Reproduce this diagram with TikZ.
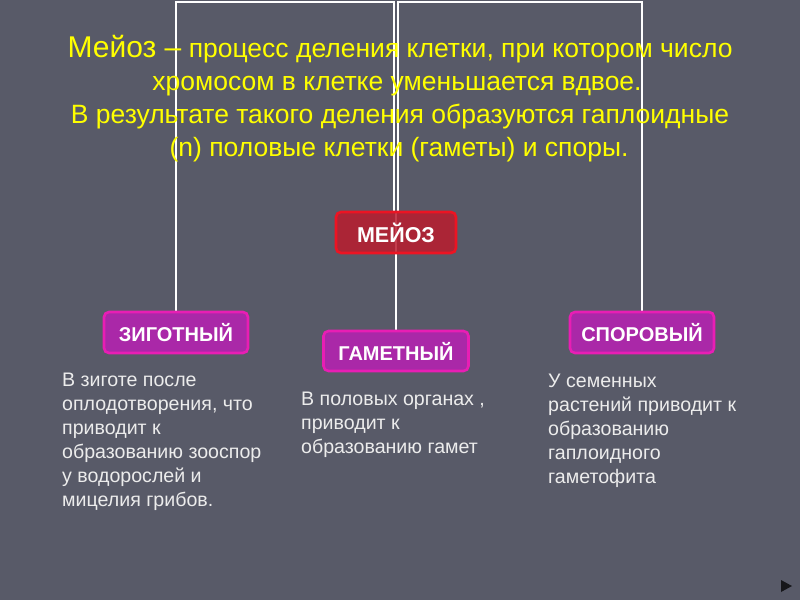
\documentclass[tikz,border=0pt]{standalone}
\usepackage{fontspec}
\setmainfont{Liberation Sans}
\definecolor{bg}{RGB}{88,90,104}
\definecolor{ttl}{RGB}{255,255,0}
\definecolor{txt}{RGB}{236,236,236}
\definecolor{mfill}{RGB}{186,28,46}
\definecolor{mdraw}{RGB}{236,20,35}
\definecolor{pfill}{RGB}{170,40,168}
\definecolor{pdraw}{RGB}{232,30,180}
\begin{document}
\begin{tikzpicture}[x=1pt,y=-1pt,
  wire/.style={draw=white,line width=2.6pt},
  kbox/.style={draw=pdraw,fill=pfill,line width=2.6pt,rounded corners=5pt,
    text=white,font=\bfseries\fontsize{20}{22}\selectfont,inner sep=0pt,
    minimum width=144pt,minimum height=41pt},
  mbox/.style={kbox,draw=mdraw,fill=mfill,fill opacity=0.85,text opacity=1,
    minimum width=120pt,font=\bfseries\fontsize{21.5}{22}\selectfont},
  ttlline/.style={text=ttl,anchor=base,inner sep=0pt,font=\fontsize{26.5}{33}\selectfont},
  bodyline/.style={text=txt,anchor=base west,inner sep=0pt,font=\fontsize{19.6}{24}\selectfont}]
\fill[bg] (0,0) rectangle (800,600);
\useasboundingbox (0,0) rectangle (800,600);
% boxes (placed first for naming, drawn later on top)
\coordinate (top) at (400,2);
\path (396,232.5) node[mbox,draw=none,fill=none,text opacity=0] (meioz) {МЕЙОЗ};
\path (176,332.5) node[kbox,draw=none,fill=none,text opacity=0] (zig) {ЗИГОТНЫЙ};
\path (396,351) node[kbox,draw=none,fill=none,text opacity=0,minimum width=145pt,minimum height=40pt] (gam) {ГАМЕТНЫЙ};
\path (642,332.5) node[kbox,draw=none,fill=none,text opacity=0] (spor) {СПОРОВЫЙ};
% connectors
\draw[wire] ([xshift=-2pt]meioz.north) -- ([xshift=-2pt]meioz.north |- top) -| (zig.north);
\draw[wire] ([xshift=2pt]meioz.north) -- ([xshift=2pt]meioz.north |- top) -| (spor.north);
\draw[wire] (meioz.north) -- (gam.north);
% visible boxes
\node[mbox] (meiozB) at (meioz) {МЕЙОЗ};
\node[kbox] (zigB) at (zig) {ЗИГОТНЫЙ};
\node[kbox,minimum width=145pt,minimum height=40pt] (gamB) at (gam) {ГАМЕТНЫЙ};
\node[kbox] (sporB) at (spor) {СПОРОВЫЙ};
% title
\node[ttlline] (t1) at (400,57) {{\fontsize{30}{33}\selectfont Мейоз –} процесс деления клетки, при котором число};
\node[ttlline] (t2) at (397,90) {хромосом в клетке уменьшается вдвое.};
\node[ttlline] (t3) at (400,123) {В результате такого деления образуются гаплоидные};
\node[ttlline] (t4) at (399,156) {(n) половые клетки (гаметы) и споры.};
% left text
\node[bodyline] (l1) at (62,386) {В зиготе после};
\node[bodyline] (l2) at (62,410) {оплодотворения, что};
\node[bodyline] (l3) at (62,434) {приводит к};
\node[bodyline] (l4) at (62,458) {образованию зооспор};
\node[bodyline] (l5) at (62,482) {у водорослей и};
\node[bodyline] (l6) at (62,506) {мицелия грибов.};
% middle text
\node[bodyline] (m1) at (301,405) {В половых органах ,};
\node[bodyline] (m2) at (301,429) {приводит к};
\node[bodyline] (m3) at (301,453) {образованию гамет};
% right text
\node[bodyline] (r1) at (548,387) {У семенных};
\node[bodyline] (r2) at (548,411) {растений приводит к};
\node[bodyline] (r3) at (548,435) {образованию};
\node[bodyline] (r4) at (548,459) {гаплоидного};
\node[bodyline] (r5) at (548,483) {гаметофита};
% slide bullet
\fill[black!75!bg] (781,580) -- (792,586) -- (781,592) -- cycle;
\end{tikzpicture}
\end{document}
